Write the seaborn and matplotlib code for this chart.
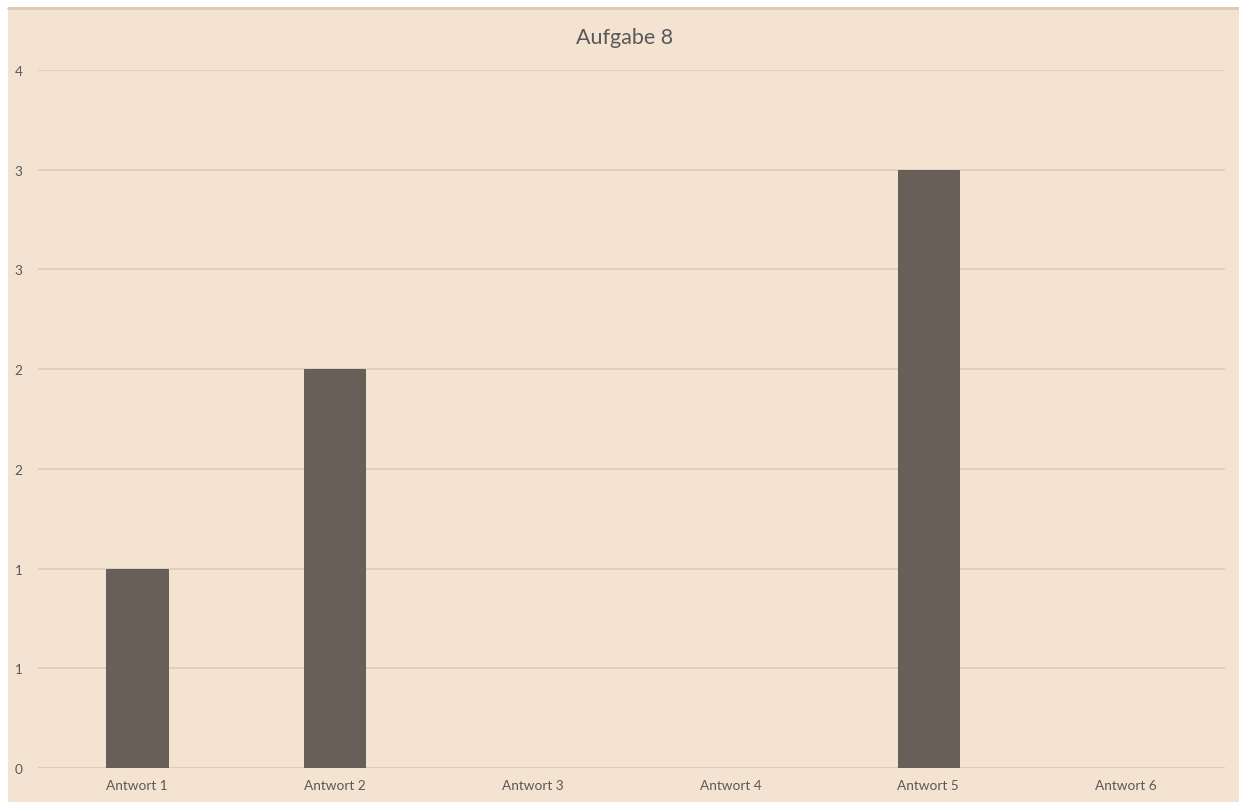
import numpy as np
import pandas as pd
import seaborn as sns
import matplotlib
matplotlib.use("Agg")
import matplotlib.pyplot as plt
from matplotlib.ticker import FuncFormatter, MultipleLocator
from matplotlib.patches import Rectangle
from matplotlib.lines import Line2D

categories = ["Antwort 1", "Antwort 2", "Antwort 3", "Antwort 4", "Antwort 5", "Antwort 6"]
counts = [1, 2, 0, 0, 3, 0]
title = "Aufgabe 8"

bg = "#F4E3D1"
bar_color = "#686058"
grid_color = "#DCCBB9"
text_color = "#595959"

sns.set_theme(style="white")
plt.rcParams["font.family"] = ["Lato", "DejaVu Sans"]

W, H = 1239, 803
fig = plt.figure(figsize=(W / 100, H / 100), dpi=100, facecolor=bg)

# white margin on the left and top, with a thin border line
fig.patches.append(Rectangle((0, 0), 8 / W, 1, transform=fig.transFigure,
                             facecolor="white", edgecolor="none", zorder=0))
fig.patches.append(Rectangle((0, 1 - 8 / H), 1, 8 / H, transform=fig.transFigure,
                             facecolor="white", edgecolor="none", zorder=0))
fig.lines.append(Line2D([8 / W, 1], [1 - 9 / H, 1 - 9 / H], transform=fig.transFigure,
                        color="#DDC9B4", linewidth=2))

left, right, top, bottom = 38, 1225, 71, 769
ax = fig.add_axes([left / W, 1 - bottom / H, (right - left) / W, (bottom - top) / H])
ax.set_facecolor(bg)

df = pd.DataFrame({"Antwort": categories, "Anzahl": counts})
sns.barplot(data=df, x="Antwort", y="Anzahl", color=bar_color, width=0.31,
            saturation=1, ax=ax, zorder=3, edgecolor="#5A534C", linewidth=0.6)

ax.set_xlim(-0.5, len(categories) - 0.5)
ax.set_ylim(0, 3.5)
ax.yaxis.set_major_locator(MultipleLocator(0.5))
ax.yaxis.set_major_formatter(FuncFormatter(lambda v, p: f"{int(np.floor(v + 0.5 + 1e-9))}"))
ax.grid(axis="y", color=grid_color, linewidth=1.2, zorder=0)
ax.grid(axis="x", visible=False)
for s in ax.spines.values():
    s.set_visible(False)
ax.axhline(0, color=grid_color, linewidth=1.4, zorder=2)

ax.set_xlabel("")
ax.set_ylabel("")
ax.tick_params(axis="both", length=0, labelsize=9.8, colors=text_color)
ax.tick_params(axis="y", pad=11)
ax.tick_params(axis="x", pad=8)
for lbl in ax.get_yticklabels():
    lbl.set_horizontalalignment("right")

fig.text(625 / W, 1 - 38 / H, title, ha="center", va="center",
         fontsize=15.5, color=text_color)

fig.savefig("out.png", dpi=100, facecolor=bg)
